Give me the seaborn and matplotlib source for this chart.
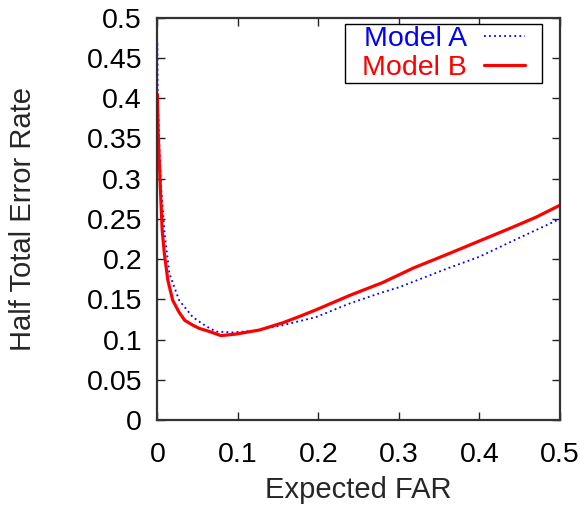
import matplotlib
matplotlib.use("Agg")
import matplotlib.pyplot as plt
from matplotlib.path import Path
import seaborn as sns

# Model A (blue, dotted)
far_a = [0, 0.0005, 0.0027, 0.0046, 0.009, 0.015, 0.027, 0.044, 0.06, 0.073,
         0.093, 0.12, 0.156, 0.197, 0.239, 0.28, 0.30, 0.359, 0.40, 0.442, 0.47, 0.5]
hter_a = [0.468, 0.40, 0.335, 0.289, 0.232, 0.182, 0.149, 0.128, 0.117, 0.110,
          0.109, 0.111, 0.118, 0.128, 0.145, 0.159, 0.165, 0.188, 0.203, 0.223, 0.236, 0.250]

# Model B (red, solid)
far_b = [0, 0.001, 0.0037, 0.006, 0.0087, 0.013, 0.019, 0.027, 0.034, 0.044, 0.052,
         0.065, 0.079, 0.098, 0.127, 0.156, 0.177, 0.197, 0.239, 0.280, 0.318, 0.36,
         0.401, 0.442, 0.47, 0.5]
hter_b = [0.405, 0.356, 0.289, 0.236, 0.207, 0.174, 0.149, 0.134, 0.124, 0.118, 0.114,
          0.110, 0.105, 0.107, 0.112, 0.121, 0.129, 0.137, 0.155, 0.171, 0.189, 0.206,
          0.223, 0.240, 0.252, 0.267]

xticks = [0, 0.1, 0.2, 0.3, 0.4, 0.5]
yticks = [0, 0.05, 0.1, 0.15, 0.2, 0.25, 0.3, 0.35, 0.4, 0.45, 0.5]

sns.set_style("ticks")
plt.rcParams['font.family'] = ['Liberation Sans', 'DejaVu Sans']
fs = 20.5

fig = plt.figure(figsize=(5.85, 5.08), dpi=100)
ax = fig.add_axes([0.269, 0.173, 0.688, 0.792])

sns.lineplot(x=far_a, y=hter_a, ax=ax, color='blue', lw=1.3, sort=False,
             estimator=None, label='Model A', linestyle=(0, (1, 1.8)))
sns.lineplot(x=far_b, y=hter_b, ax=ax, color='red', lw=2.3, sort=False,
             estimator=None, label='Model B')

ax.set_xlim(0, 0.5)
ax.set_ylim(0, 0.5)
ax.set_xticks(xticks)
ax.set_xticklabels(['0', '0.1', '0.2', '0.3', '0.4', '0.5'])
ax.set_yticks(yticks)
ax.set_yticklabels(['0', '0.05', '0.1', '0.15', '0.2', '0.25', '0.3', '0.35', '0.4', '0.45', '0.5'])
ax.tick_params(direction='in', length=6, width=1, top=True, right=True,
               labelsize=fs, colors='#222222', labelcolor='black')
ax.tick_params(axis='x', pad=16)
ax.tick_params(axis='y', pad=11)
for s in ax.spines.values():
    s.set_visible(True)
    s.set_linewidth(1.6)
    s.set_color('#333333')

ax.set_xlabel('Expected FAR', fontsize=21)
ax.set_ylabel('Half Total Error Rate', fontsize=21)
ax.xaxis.set_label_coords(0.5, -0.139)
ax.yaxis.set_label_coords(-0.30, 0.5)

leg = ax.legend(loc='upper right', bbox_to_anchor=(0.913, 0.980), fontsize=fs,
                markerfirst=False, fancybox=False, edgecolor='black', framealpha=1,
                handlelength=1.44, handletextpad=0.6, borderaxespad=0,
                borderpad=0, labelspacing=0.12)
leg.get_frame().set_linewidth(1.0)


# gnuplot-like key box: wide side padding, little above and below
def key_box(x0, y0, width, height, mutation_size):
    px = 0.6 * mutation_size
    py = 0.07 * mutation_size
    return Path([(x0 - px, y0 - py), (x0 + width + px, y0 - py),
                 (x0 + width + px, y0 + height + py), (x0 - px, y0 + height + py),
                 (x0 - px, y0 - py)], closed=True)


leg.get_frame().set_boxstyle(key_box)
for t, c in zip(leg.get_texts(), ['blue', 'red']):
    t.set_color(c)

fig.savefig('out.png', dpi=100)
